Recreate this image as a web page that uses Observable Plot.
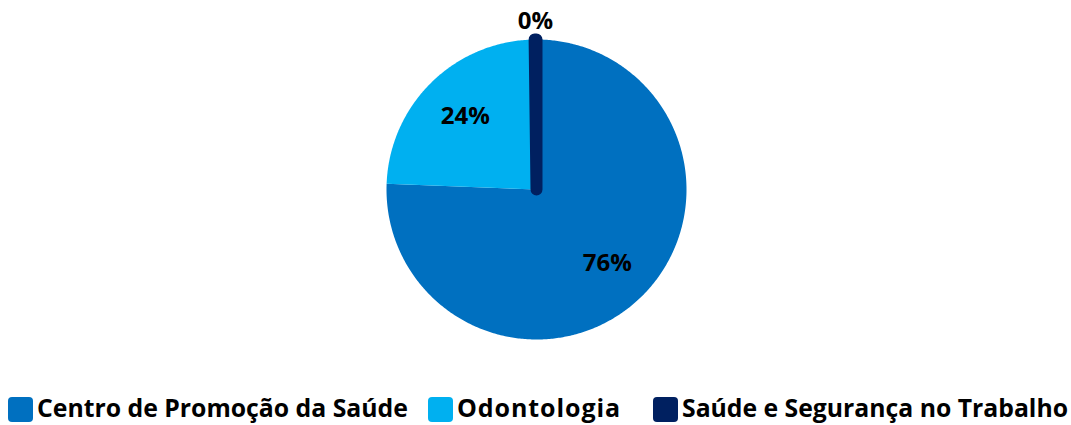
<!DOCTYPE html>
<html>
<head>
<meta charset="utf-8">
<script src="https://cdn.jsdelivr.net/npm/d3@7"></script>
<script src="https://cdn.jsdelivr.net/npm/@observablehq/plot@0.6"></script>
<style>
  body { margin: 0; background: #fff; font-family: "Open Sans", Lato, sans-serif; }
  #wrap { position: relative; width: 1071px; height: 425px; overflow: hidden; }
  .item { position: absolute; top: 395px; height: 25px; display: flex; align-items: flex-start; font-weight: 700; line-height: 25px; color: #000; white-space: nowrap; }
  .sw { width: 25px; height: 25px; border-radius: 4px; margin-right: 4px; margin-top: 2px; flex: none; }
</style>
</head>
<body>
<div id="wrap"></div>
<script>
const categories = ["Centro de Promoção da Saúde", "Odontologia", "Saúde e Segurança no Trabalho"];
const values = [75.6, 24.2, 0.2];
const labels = ["76%", "24%", "0%"];
const colors = ["#0070C0", "#00B0F0", "#002060"];

const W = 1071, H = 395;
const cx = 536, cy = 189, R = 150;
const FONT = "'Open Sans', Lato, sans-serif";

const arcs = d3.pie().sort(null).value(d => d)(values);

const marks = [];
const labelData = [];
arcs.forEach((a, i) => {
  const pts = [{x: cx, y: cy}];
  const n = Math.max(2, Math.ceil((a.endAngle - a.startAngle) / 0.01));
  for (let k = 0; k <= n; k++) {
    const t = a.startAngle + (a.endAngle - a.startAngle) * k / n;
    pts.push({x: cx + R * Math.sin(t), y: cy - R * Math.cos(t)});
  }
  const small = values[i] < 1;
  marks.push(Plot.line(pts, {
    x: "x", y: "y", curve: "linear-closed",
    fill: colors[i], stroke: small ? colors[i] : "none",
    strokeWidth: small ? 12 : 0, strokeLinejoin: "round", strokeLinecap: "round"
  }));
  const mid = (a.startAngle + a.endAngle) / 2;
  const r = small ? 168 : 102;
  labelData.push({x: cx + r * Math.sin(mid), y: cy - r * Math.cos(mid), text: labels[i]});
});
marks.push(Plot.text(labelData, {
  x: "x", y: "y", text: "text", fontSize: 24, fontWeight: 700, fill: "#000",
  fontFamily: FONT
}));

const chart = Plot.plot({
  width: W, height: H,
  margin: 0,
  x: {domain: [0, W], range: [0, W], axis: null},
  y: {domain: [0, H], range: [0, H], axis: null},
  style: {background: "#fff"},
  marks
});
const wrap = document.getElementById("wrap");
wrap.appendChild(chart);

const lefts = [8, 428, 653];
const targetW = [371, 164, 386];
const ctx = document.createElement("canvas").getContext("2d");
ctx.font = "700 25px " + FONT;
categories.forEach((c, i) => {
  const d = document.createElement("div");
  d.className = "item";
  d.style.left = lefts[i] + "px";
  const w = ctx.measureText(c).width;
  let fs = 25, ls = 0;
  if (w > targetW[i]) fs = 25 * targetW[i] / w;
  else ls = (targetW[i] - w) / c.length;
  d.innerHTML = `<span class="sw" style="background:${colors[i]}"></span><span style="font-size:${fs.toFixed(2)}px;letter-spacing:${ls.toFixed(2)}px">${c}</span>`;
  wrap.appendChild(d);
});
</script>
</body>
</html>
